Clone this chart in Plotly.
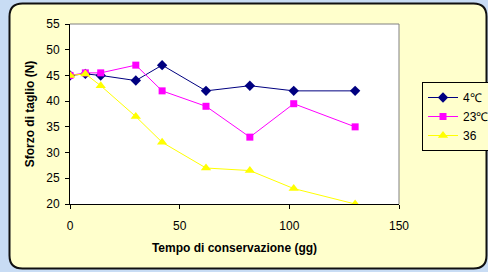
import plotly.graph_objects as go

days = [0, 7, 14, 30, 42, 62, 82, 102, 130]
s_4C = [45, 45.3, 45, 44, 47, 42, 43, 42, 42]
s_23C = [45, 45.5, 45.5, 47, 42, 39, 33, 39.5, 35]
s_36 = [45, 45.3, 43, 37, 32, 27, 26.5, 23, 20]
series_names = ["4℃", "23℃", "36"]
x_ticks = [0, 50, 100, 150]
y_ticks = [20, 25, 30, 35, 40, 45, 50, 55]

W, H = 488, 272
L, R, T, B = 70, 399, 24, 204

def px(x):
    return (x - L) / (R - L)

def py(y):
    return (B - y) / (B - T)

font = "Liberation Sans, Arial, sans-serif"

fig = go.Figure()
fig.add_trace(go.Scatter(x=days, y=s_4C, name=series_names[0], mode="lines+markers",
                         line=dict(color="#000080", width=1),
                         marker=dict(symbol="diamond", size=8, color="#000080")))
fig.add_trace(go.Scatter(x=days, y=s_23C, name=series_names[1], mode="lines+markers",
                         line=dict(color="#FF00FF", width=1),
                         marker=dict(symbol="square", size=7, color="#FF00FF")))
fig.add_trace(go.Scatter(x=days, y=s_36, name=series_names[2], mode="lines+markers",
                         line=dict(color="#FFFF00", width=1),
                         marker=dict(symbol="triangle-up", size=9, color="#FFFF00")))

# rounded chart frame
x0, y0, x1, y1, r = 9.5, 3.5, 486.5, 268.5, 13
path = (f"M {px(x0+r)},{py(y0)} L {px(x1-r)},{py(y0)} Q {px(x1)},{py(y0)} {px(x1)},{py(y0+r)} "
        f"L {px(x1)},{py(y1-r)} Q {px(x1)},{py(y1)} {px(x1-r)},{py(y1)} "
        f"L {px(x0+r)},{py(y1)} Q {px(x0)},{py(y1)} {px(x0)},{py(y1-r)} "
        f"L {px(x0)},{py(y0+r)} Q {px(x0)},{py(y0)} {px(x0+r)},{py(y0)} Z")

shapes = [
    dict(type="path", xref="paper", yref="paper", path=path, layer="below",
         fillcolor="#FFFFCC", line=dict(color="#111111", width=2)),
    dict(type="rect", xref="paper", yref="paper", x0=0, y0=0, x1=1, y1=1, layer="below",
         fillcolor="#FFFFFF", line=dict(width=0)),
    dict(type="path", xref="paper", yref="paper", path="M 0,1 L 1,1 L 1,0", layer="above",
         line=dict(color="#808080", width=1)),
]

fig.update_layout(
    width=W, height=H,
    margin=dict(l=L, r=W - R, t=T, b=H - B, autoexpand=False),
    paper_bgcolor="#C8DCF4",
    plot_bgcolor="rgba(0,0,0,0)",
    font=dict(family=font, size=12, color="#000000"),
    shapes=shapes,
    showlegend=True,
    legend=dict(x=px(422), y=py(82), xanchor="left", yanchor="top",
                bgcolor="#FFFFCC", bordercolor="#000000", borderwidth=1,
                font=dict(family=font, size=12), itemwidth=30, tracegroupgap=0),
    xaxis=dict(range=[0, 150], tickvals=x_ticks, ticks="outside", ticklen=4,
               tickcolor="#000000", showline=True, linecolor="#000000", linewidth=1,
               showgrid=False, zeroline=False, ticklabelstandoff=7,
               title=dict(text="<b>Tempo di conservazione (gg)</b>", standoff=11,
                          font=dict(family=font, size=12))),
    yaxis=dict(range=[20, 55], tickvals=y_ticks, ticks="outside", ticklen=4,
               tickcolor="#000000", showline=True, linecolor="#000000", linewidth=1,
               showgrid=False, zeroline=False, ticklabelstandoff=3,
               title=dict(text="<b>Sforzo di taglio (N)</b>", standoff=9,
                          font=dict(family=font, size=12))),
)

fig.write_html("out.html", config={"displayModeBar": False},
               post_script="document.body.style.margin='0';document.body.style.background='#C8DCF4';")
